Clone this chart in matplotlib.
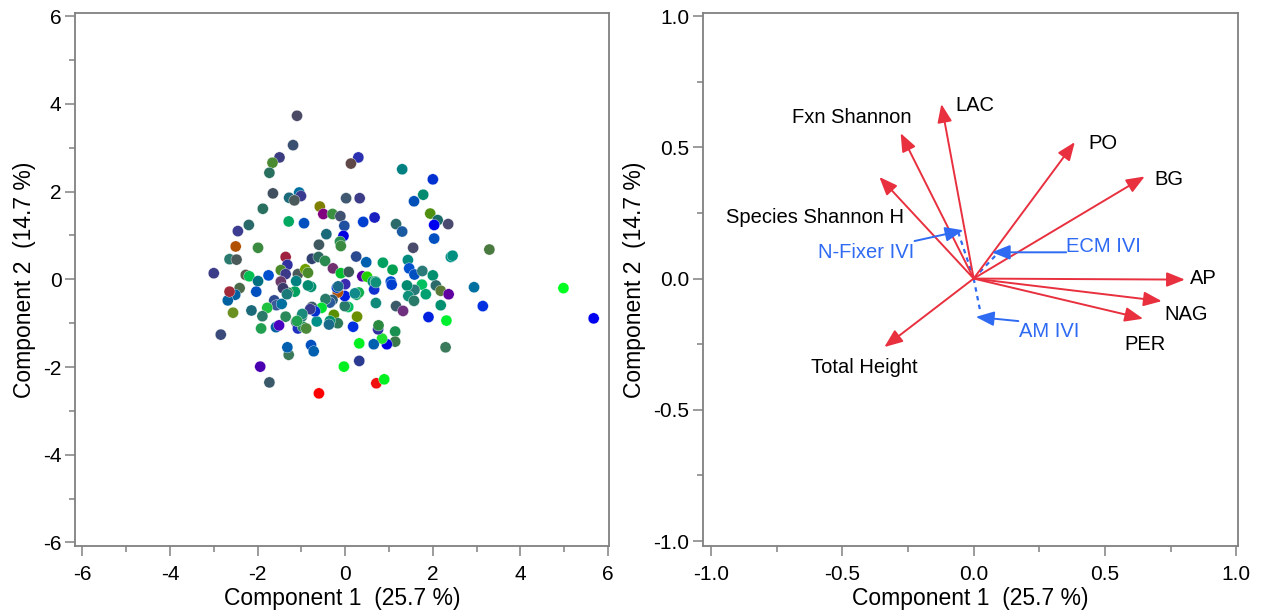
import matplotlib
matplotlib.use("Agg")
from matplotlib import pyplot as plt
from matplotlib.ticker import MultipleLocator

plt.rcParams['font.family'] = ['Liberation Sans', 'DejaVu Sans']
plt.rcParams['axes.unicode_minus'] = False

# ---- PCA scores (left panel) ----
pc1_scores = [
  -1.10, -1.19, -1.50, -1.66, -1.73, 0.30, 0.13, 1.30, 2.00, 1.78,
  1.57, -1.65, -1.28, -1.05, -1.01, -1.16, 0.02, 0.33, -1.88, -0.58,
  -0.50, -0.29, -0.11, 0.67, 1.94, 2.11, 2.35, 2.03, -2.20, -2.45,
  -1.29, -0.94, -0.02, 0.41, 1.16, 1.30, -2.50, -1.99, -0.43, -0.04,
  -0.12, -0.10, -0.60, 1.55, 2.03, 3.29, 2.41, 2.45, -2.64, -2.48,
  -1.36, -1.32, -0.76, -0.61, -0.46, 0.25, 0.48, 0.86, 1.08, 1.43,
  1.46, 1.58, 1.76, -3.00, -2.27, -2.19, -1.99, -1.75, -1.47, -1.36,
  -1.08, -0.91, -0.85, -0.28, -0.10, 0.08, 0.39, 0.50, 0.63, 0.69,
  0.66, 1.04, 1.06, 2.00, 2.07, 1.75, 2.18, 2.36, 1.84, 2.94,
  4.98, 5.67, 3.14, 2.31, 1.90, 2.18, 1.58, 1.41, 1.16, 1.32,
  2.29, 1.14, 1.14, 0.95, 0.84, 0.75, 0.76, 0.65, 0.32, 0.32,
  -0.03, 0.18, 0.27, 0.07, -0.01, -0.01, 0.00, -0.17, -0.19, 0.26,
  0.31, -0.29, -0.35, -0.45, -0.26, -0.17, -0.35, -0.37, -0.54, -0.65,
  -0.76, -0.69, -0.80, -0.78, -0.85, -1.12, -1.15, -0.99, -1.12, -1.08,
  -0.97, -0.89, -1.31, -1.36, -1.47, -1.42, -1.62, -1.57, -1.45, -1.78,
  -1.89, -1.92, -1.58, -1.51, -2.03, -2.14, -2.41, -2.51, -2.68, -2.64,
  -2.56, -2.84, -1.94, -1.73, -1.29, -1.32, -0.78, -0.72, -0.60, 0.71,
  0.89, -1.33, -0.98, -1.10, 0.22, 0.70, 1.44, 1.57, 0.70, -0.16,
]
pc2_scores = [
  3.73, 3.06, 2.78, 2.66, 2.43, 2.78, 2.64, 2.51, 2.28, 1.93,
  1.78, 1.96, 1.86, 1.98, 1.90, 1.80, 1.85, 1.85, 1.61, 1.66,
  1.49, 1.49, 1.44, 1.41, 1.50, 1.35, 1.26, 1.24, 1.24, 1.10,
  1.32, 1.28, 1.22, 1.31, 1.26, 1.09, 0.75, 0.72, 1.03, 0.99,
  0.86, 0.76, 0.79, 0.72, 0.93, 0.68, 0.51, 0.54, 0.46, 0.45,
  0.51, 0.33, 0.47, 0.51, 0.42, 0.52, 0.39, 0.38, 0.22, 0.44,
  0.25, 0.11, 0.19, 0.14, 0.10, 0.07, -0.04, 0.09, 0.21, 0.12,
  0.12, 0.23, 0.15, 0.25, 0.14, 0.17, 0.07, 0.06, -0.05, -0.05,
  -0.23, -0.05, -0.12, 0.09, -0.14, -0.12, -0.26, -0.34, -0.34, -0.18,
  -0.20, -0.89, -0.61, -0.94, -0.86, -0.59, -0.24, -0.14, -0.61, -0.72,
  -1.55, -1.19, -1.42, -1.48, -1.35, -1.14, -1.05, -1.48, -1.46, -1.86,
  -1.99, -1.08, -0.85, -0.63, -0.61, -0.38, -0.11, -0.30, -0.19, -0.35,
  -0.30, -0.47, -0.53, -0.45, -0.81, -1.00, -0.95, -1.03, -0.65, -0.96,
  -0.63, -0.73, -0.68, -0.17, -0.14, -0.04, -0.28, -0.85, -0.97, -1.12,
  -1.08, -1.12, -0.30, -0.85, -0.05, -0.20, -0.48, -0.59, -0.56, -0.65,
  -0.84, -1.12, -1.09, -1.05, -0.28, -0.71, -0.20, -0.35, -0.48, -0.28,
  -0.76, -1.26, -1.99, -2.35, -1.72, -1.55, -1.50, -1.64, -2.60, -2.37,
  -2.28, -0.34, -0.79, -0.95, -0.32, -0.54, -0.38, -0.49, -0.07, -0.16,
]
point_colors = [
  '#4a4a66', '#3a5070', '#3c3c80', '#4a8a30', '#2a7060', '#2a30b0', '#604848', '#008080', '#0030d0', '#008a70',
  '#0050b8', '#405060', '#1a6a7a', '#0070a0', '#3a3a90', '#4a5a5a', '#405870', '#3c3c88', '#2a7060', '#808000',
  '#800080', '#3a9040', '#405070', '#1a20c0', '#509010', '#1a6a6a', '#4a4a70', '#0000f0', '#2a6a6a', '#3c3c90',
  '#00a860', '#0050c0', '#2050a0', '#0040d0', '#2a6a6a', '#1a5aa0', '#b05000', '#3a8a40', '#1a6a7a', '#0000e0',
  '#2a9050', '#3a8a40', '#405860', '#4a4a6a', '#0050c0', '#4a7a40', '#00908a', '#009080', '#2a7a70', '#4a5a5a',
  '#a02040', '#3030a0', '#304070', '#2a6a60', '#2a8a50', '#2a4a90', '#0060b0', '#00a060', '#00a050', '#008a80',
  '#0050d0', '#0050c0', '#2a7a7a', '#3c3c88', '#5a5a4a', '#00c050', '#007080', '#0050d0', '#4a8a2a', '#3a3a88',
  '#4a5a5a', '#70a000', '#4a8a2a', '#703070', '#00c030', '#3a5a5a', '#5000a0', '#20d000', '#009070', '#10a060',
  '#1030d0', '#0050d0', '#0040d0', '#009070', '#2a6a6a', '#00c060', '#5a7a3a', '#6000a0', '#00a070', '#0070a0',
  '#00ff20', '#0000f0', '#0030e0', '#00f030', '#0020e0', '#009070', '#2a7a7a', '#008a70', '#3a5a6a', '#703080',
  '#3a7a5a', '#1a9050', '#3a7a4a', '#0000e0', '#20e030', '#3030a0', '#2a8a40', '#0060b0', '#00f020', '#2a3a90',
  '#00f020', '#0030e0', '#6a9000', '#00c060', '#2a7a6a', '#0020e0', '#3a2ab0', '#b05000', '#0040d0', '#10a060',
  '#10b050', '#2a5a7a', '#2a5a9a', '#2a7a6a', '#5a9000', '#2a7a5a', '#009070', '#1a6a8a', '#00e030', '#00908a',
  '#3a5a6a', '#0030d0', '#3a3a90', '#009070', '#008a70', '#008080', '#00a060', '#2a7a7a', '#3a5a6a', '#2030c0',
  '#2a8a5a', '#4a8a3a', '#2a8a50', '#2a8a5a', '#6a3a6a', '#3a3a6a', '#304a90', '#3a5a9a', '#0070a0', '#20c040',
  '#2a7a6a', '#20a050', '#0060a0', '#4a00c0', '#0050c0', '#1a6a7a', '#4a6a4a', '#0060a0', '#0060a0', '#a02a3a',
  '#6a9020', '#3a4a7a', '#4a00b0', '#3a5a6a', '#3a7a5a', '#0060b0', '#0050c0', '#0060b0', '#ff0000', '#f01010',
  '#00f020', '#1a7a7a', '#1a8a7a', '#20a050', '#108a8a', '#108a7a', '#10907a', '#2a7a6a', '#10907a', '#1a6a8a',
]

# ---- loadings (right panel) ----
loading_names = ['LAC', 'Fxn Shannon', 'Species Shannon H', 'PO', 'BG',
                 'AP', 'NAG', 'PER', 'Total Height']
loading_x = [-0.123, -0.278, -0.359, 0.385, 0.651, 0.804, 0.716, 0.645, -0.340]
loading_y = [0.665, 0.554, 0.387, 0.520, 0.389, -0.004, -0.086, -0.153, -0.261]

sup_names = ['N-Fixer IVI', 'ECM IVI', 'AM IVI']
sup_x = [-0.060, 0.090, 0.025]
sup_y = [0.180, 0.095, -0.125]

# label placement: (x, y, ha)
loading_label_pos = {
  'LAC': (-0.068, 0.658, 'left'),
  'Fxn Shannon': (-0.465, 0.613, 'center'),
  'Species Shannon H': (-0.265, 0.233, 'right'),
  'PO': (0.435, 0.516, 'left'),
  'BG': (0.688, 0.379, 'left'),
  'AP': (0.824, 0.0, 'left'),
  'NAG': (0.726, -0.137, 'left'),
  'PER': (0.572, -0.251, 'left'),
  'Total Height': (-0.416, -0.340, 'center'),
}
sup_label_pos = {
  'N-Fixer IVI': (-0.228, 0.100, 'right'),
  'ECM IVI': (0.352, 0.123, 'left'),
  'AM IVI': (0.172, -0.200, 'left'),
}
sup_leader_start = {
  'N-Fixer IVI': (-0.225, 0.143),
  'ECM IVI': (0.352, 0.100),
  'AM IVI': (0.170, -0.162),
}
sup_leader_end = {
  'N-Fixer IVI': (-0.039, 0.184),
  'ECM IVI': (0.069, 0.100),
  'AM IVI': (0.008, -0.146),
}

red = '#e8303f'
blue = '#2e6af2'
spine_col = '#808080'

fig = plt.figure(figsize=(12.61, 6.13), dpi=100)
ax1 = fig.add_axes([75.3/1261, 1-546/613, (609-75.3)/1261, (546-12.7)/613])
ax2 = fig.add_axes([703.3/1261, 1-546/613, (1238-703.3)/1261, (546-12.7)/613])

def style_axes(ax):
  for sp in ax.spines.values():
    sp.set_color(spine_col)
    sp.set_linewidth(1.3)
  ax.tick_params(which='major', length=7, width=1.1, color=spine_col,
                 labelsize=15)
  ax.tick_params(which='minor', length=4, width=1.1, color=spine_col)
  ax.tick_params(axis='x', which='major', pad=6.5)
  ax.tick_params(axis='y', which='major', pad=3)
  ax.set_xlabel('Component 1  (25.7 %)', fontsize=16.5, labelpad=2)
  ax.set_ylabel('Component 2  (14.7 %)', fontsize=16.5, labelpad=5)

# left: score plot
ax1.scatter(pc1_scores, pc2_scores, c=point_colors, s=64,
            edgecolors='white', linewidths=0.25, zorder=3)
ax1.set_xlim(-6.16, 6.02)
ax1.set_ylim(-6.08, 6.08)
ax1.xaxis.set_major_locator(MultipleLocator(2))
ax1.xaxis.set_minor_locator(MultipleLocator(1))
ax1.yaxis.set_major_locator(MultipleLocator(2))
ax1.yaxis.set_minor_locator(MultipleLocator(1))
style_axes(ax1)

# right: loading plot
head = '-|>,head_length=0.55,head_width=0.22'
for name, lx, ly in zip(loading_names, loading_x, loading_y):
  ax2.annotate('', xy=(lx, ly), xytext=(0, 0),
               arrowprops=dict(arrowstyle=head, mutation_scale=20, color=red,
                               lw=1.4, shrinkA=0, shrinkB=0))
  tx, ty, ha = loading_label_pos[name]
  ax2.text(tx, ty, name, fontsize=14.5, ha=ha, va='center', color='black')

for name, sx, sy in zip(sup_names, sup_x, sup_y):
  ax2.plot([0, sx], [0, sy], color=blue, lw=1.6, ls=(0, (2, 2)))
  ax2.annotate('', xy=sup_leader_end[name], xytext=sup_leader_start[name],
               arrowprops=dict(arrowstyle=head, mutation_scale=20, color=blue,
                               lw=1.4, shrinkA=0, shrinkB=0))
  tx, ty, ha = sup_label_pos[name]
  ax2.text(tx, ty, name, fontsize=14.5, ha=ha, va='center', color=blue)

ax2.set_xlim(-1.029, 1.006)
ax2.set_ylim(-1.019, 1.013)
ax2.xaxis.set_major_locator(MultipleLocator(0.5))
ax2.xaxis.set_minor_locator(MultipleLocator(0.25))
ax2.yaxis.set_major_locator(MultipleLocator(0.5))
ax2.yaxis.set_minor_locator(MultipleLocator(0.25))
ax2.xaxis.set_major_formatter(plt.FormatStrFormatter('%.1f'))
ax2.yaxis.set_major_formatter(plt.FormatStrFormatter('%.1f'))
style_axes(ax2)

fig.savefig('out.png', dpi=100)
